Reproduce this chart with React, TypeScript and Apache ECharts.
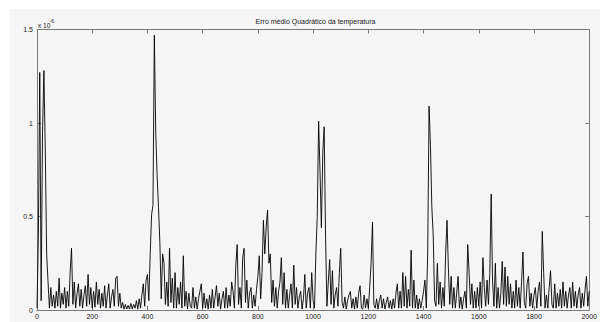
import React, { useEffect, useRef } from "react";
import * as echarts from "echarts";

// Values in units of 1e-6, sampled every STEP iterations (0..2000)
const STEP = 5;
const errValues: number[] = [
  // 0-95
  0.01, 0.4, 1.27, 0.05, 0.95, 1.28, 0.85, 0.3, 0.15, 0.01, 0.12, 0.02, 0.08, 0.01, 0.1, 0.02, 0.17, 0.01, 0.09, 0.03,
  // 100-195
  0.12, 0.01, 0.1, 0.02, 0.2, 0.33, 0.03, 0.15, 0.01, 0.09, 0.14, 0.02, 0.11, 0.01, 0.08, 0.13, 0.02, 0.19, 0.03, 0.12,
  // 200-295
  0.01, 0.1, 0.015, 0.15, 0.03, 0.11, 0.01, 0.09, 0.02, 0.13, 0.01, 0.08, 0.14, 0.01, 0.07, 0.11, 0.02, 0.17, 0.18, 0.02,
  // 300-395
  0.09, 0.01, 0.04, 0.005, 0.03, 0.005, 0.025, 0.005, 0.035, 0.005, 0.03, 0.01, 0.05, 0.005, 0.06, 0.01, 0.08, 0.14, 0.02, 0.16,
  // 400-495
  0.19, 0.05, 0.3, 0.51, 0.56, 1.47, 0.95, 0.72, 0.55, 0.36, 0.06, 0.3, 0.25, 0.03, 0.15, 0.02, 0.33, 0.04, 0.17, 0.01,
  // 500-595
  0.2, 0.01, 0.12, 0.03, 0.15, 0.01, 0.29, 0.02, 0.1, 0.005, 0.09, 0.02, 0.01, 0.12, 0.01, 0.07, 0.005, 0.06, 0.1, 0.14,
  // 600-695
  0.01, 0.09, 0.01, 0.06, 0.005, 0.08, 0.01, 0.11, 0.01, 0.07, 0.13, 0.02, 0.09, 0.005, 0.06, 0.1, 0.01, 0.12, 0.01, 0.08,
  // 700-795
  0.02, 0.15, 0.1, 0.01, 0.24, 0.35, 0.03, 0.12, 0.01, 0.28, 0.33, 0.04, 0.16, 0.01, 0.09, 0.12, 0.01, 0.08, 0.02, 0.11,
  // 800-895
  0.18, 0.29, 0.06, 0.2, 0.48, 0.3, 0.44, 0.535, 0.25, 0.3, 0.04, 0.16, 0.02, 0.12, 0.01, 0.1, 0.15, 0.28, 0.03, 0.2,
  // 900-995
  0.01, 0.11, 0.01, 0.08, 0.14, 0.01, 0.24, 0.03, 0.12, 0.01, 0.07, 0.1, 0.005, 0.06, 0.19, 0.01, 0.09, 0.12, 0.01, 0.2,
  // 1000-1095
  0.05, 0.01, 0.3, 0.5, 1.01, 0.74, 0.44, 0.84, 0.98, 0.4, 0.02, 0.15, 0.27, 0.03, 0.21, 0.01, 0.08, 0.12, 0.02, 0.2,
  // 1100-1195
  0.33, 0.04, 0.01, 0.07, 0.005, 0.05, 0.08, 0.1, 0.01, 0.06, 0.005, 0.07, 0.01, 0.09, 0.13, 0.01, 0.005, 0.08, 0.01, 0.06,
  // 1200-1295
  0.01, 0.12, 0.25, 0.47, 0.03, 0.01, 0.06, 0.005, 0.05, 0.08, 0.01, 0.06, 0.005, 0.04, 0.07, 0.01, 0.05, 0.005, 0.06, 0.01,
  // 1300-1395
  0.09, 0.14, 0.01, 0.1, 0.01, 0.2, 0.02, 0.18, 0.01, 0.11, 0.02, 0.32, 0.01, 0.16, 0.01, 0.08, 0.005, 0.06, 0.01, 0.05,
  // 1400-1495
  0.1, 0.16, 0.01, 0.3, 1.09, 0.88, 0.55, 0.4, 0.05, 0.02, 0.25, 0.03, 0.15, 0.01, 0.12, 0.02, 0.3, 0.48, 0.22, 0.03,
  // 1500-1595
  0.18, 0.01, 0.12, 0.01, 0.09, 0.18, 0.01, 0.07, 0.005, 0.06, 0.1, 0.01, 0.35, 0.2, 0.03, 0.14, 0.01, 0.1, 0.01, 0.12,
  // 1600-1695
  0.02, 0.15, 0.01, 0.28, 0.12, 0.02, 0.16, 0.03, 0.2, 0.62, 0.15, 0.02, 0.25, 0.01, 0.12, 0.01, 0.09, 0.26, 0.03, 0.23,
  // 1700-1795
  0.02, 0.18, 0.03, 0.14, 0.01, 0.1, 0.01, 0.16, 0.02, 0.12, 0.01, 0.15, 0.31, 0.04, 0.01, 0.14, 0.18, 0.02, 0.09, 0.01,
  // 1800-1895
  0.08, 0.12, 0.01, 0.1, 0.15, 0.02, 0.42, 0.2, 0.01, 0.08, 0.01, 0.12, 0.21, 0.03, 0.01, 0.14, 0.01, 0.09, 0.02, 0.11,
  // 1900-2000
  0.01, 0.15, 0.02, 0.1, 0.01, 0.08, 0.12, 0.01, 0.15, 0.02, 0.1, 0.01, 0.08, 0.12, 0.01, 0.09, 0.02, 0.11, 0.18, 0.02, 0.1,
];

const xTicks = [0, 200, 400, 600, 800, 1000, 1200, 1400, 1600, 1800, 2000];
const yTicks = [0, 0.5, 1, 1.5];
const TITLE = "Erro médio Quadrático da temperatura";

export default function App() {
  const ref = useRef<HTMLDivElement>(null);
  useEffect(() => {
    if (!ref.current) return;
    const chart = echarts.init(ref.current, undefined, { renderer: "svg" });
    const data = errValues.map((v, i) => [i * STEP, v]);
    const font = "'Liberation Sans', Arial, sans-serif";
    const axisLine = { show: true, onZero: false, lineStyle: { color: "#7a7a7a", width: 1 } };
    const tick = { show: true, inside: true, length: 4, lineStyle: { color: "#7a7a7a" } };
    const label = { color: "#222", fontSize: 7, fontFamily: font, formatter: (v: number) => String(v) };
    chart.setOption({
      animation: false,
      backgroundColor: "#ffffff",
      graphic: [
        { type: "rect", z: -10, shape: { x: 10, y: 9, width: 590, height: 313 }, style: { fill: "#f5f5f5" } },
        {
          type: "text",
          x: 315.5,
          y: 21,
          style: { text: TITLE, fill: "#222", font: `7px ${font}`, textAlign: "center", textVerticalAlign: "middle" },
        },
        {
          type: "text",
          x: 38,
          y: 25,
          style: { text: "x 10", fill: "#222", font: `6.5px ${font}`, textAlign: "left", textVerticalAlign: "middle" },
        },
        {
          type: "text",
          x: 49.5,
          y: 21,
          style: { text: "-6", fill: "#222", font: `5px ${font}`, textAlign: "left", textVerticalAlign: "middle" },
        },
      ],
      grid: { left: 37, top: 29.5, right: 6, bottom: 12, show: false },
      xAxis: [
        {
          type: "value",
          min: xTicks[0],
          max: xTicks[xTicks.length - 1],
          interval: 200,
          axisLine,
          axisTick: tick,
          axisLabel: { ...label, margin: 3 },
          splitLine: { show: false },
        },
        {
          type: "value",
          position: "top",
          min: xTicks[0],
          max: xTicks[xTicks.length - 1],
          interval: 200,
          axisLine,
          axisTick: tick,
          axisLabel: { show: false },
          splitLine: { show: false },
        },
      ],
      yAxis: [
        {
          type: "value",
          min: yTicks[0],
          max: yTicks[yTicks.length - 1],
          interval: 0.5,
          axisLine,
          axisTick: tick,
          axisLabel: { ...label, margin: 4 },
          splitLine: { show: false },
        },
        {
          type: "value",
          position: "right",
          min: yTicks[0],
          max: yTicks[yTicks.length - 1],
          interval: 0.5,
          axisLine,
          axisTick: tick,
          axisLabel: { show: false },
          splitLine: { show: false },
        },
      ],
      series: [
        {
          type: "line",
          data,
          showSymbol: false,
          symbol: "none",
          lineStyle: { color: "#000", width: 0.9 },
          clip: true,
        },
      ],
    });
    return () => chart.dispose();
  }, []);
  return <div ref={ref} style={{ position: "absolute", left: 0, top: 0, width: 600, height: 322 }} />;
}
